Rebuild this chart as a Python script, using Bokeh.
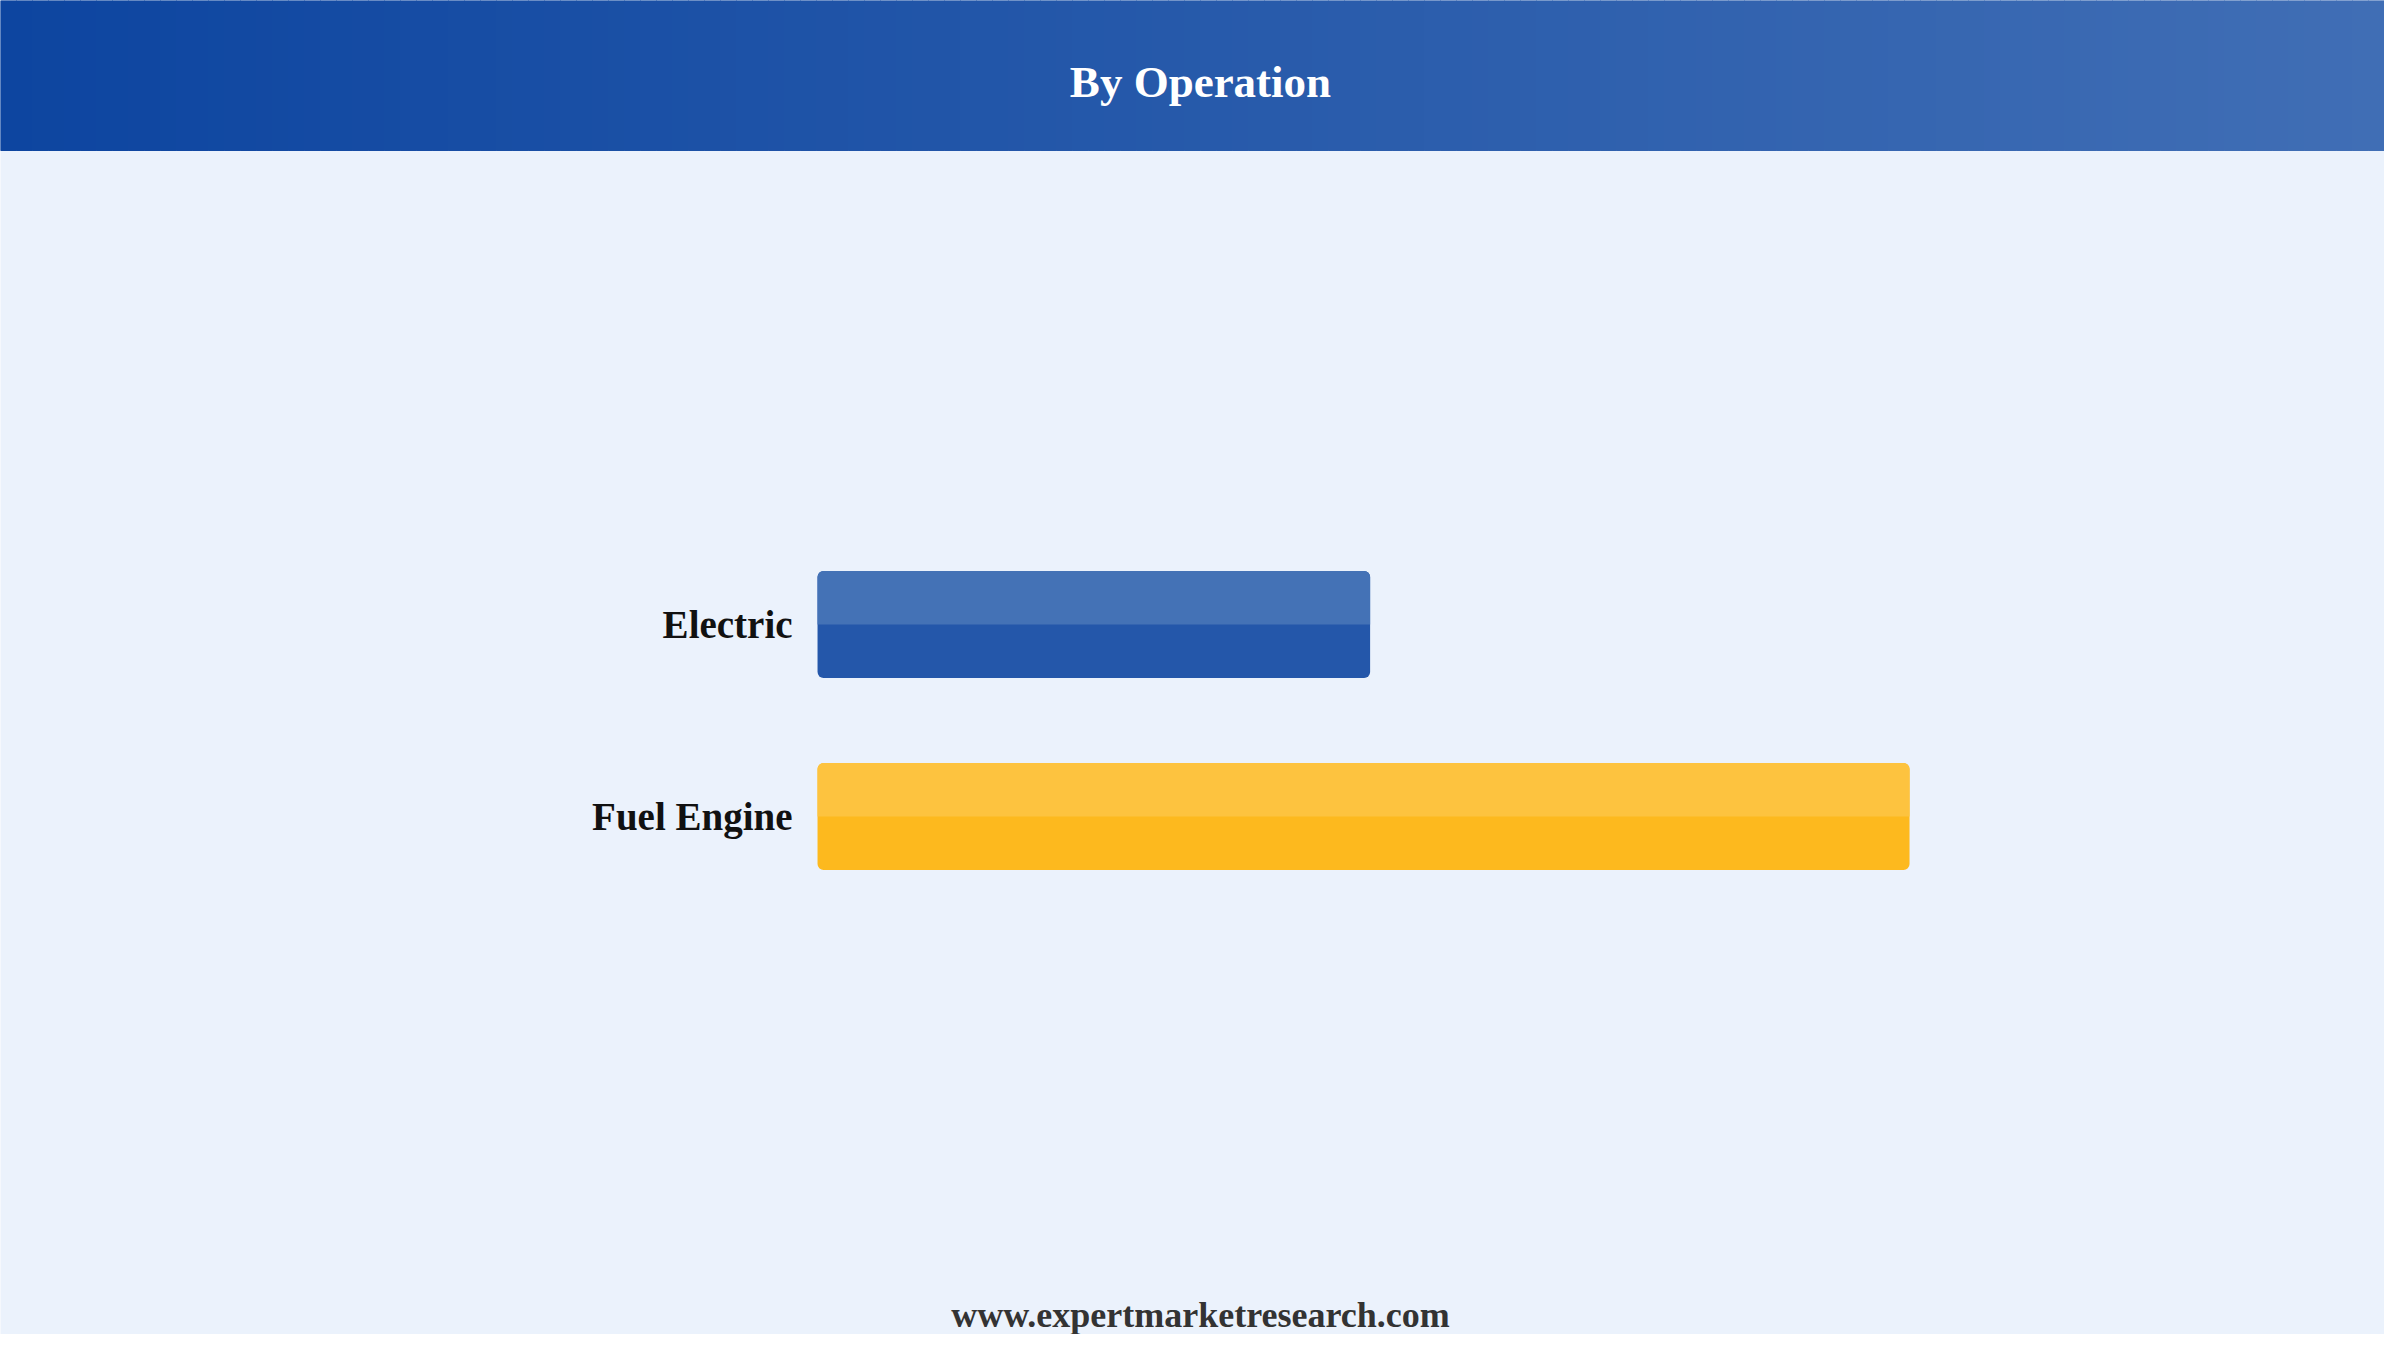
from bokeh.plotting import figure
from bokeh.models import ColumnDataSource, Range1d, Label
from bokeh.transform import dodge
from bokeh.core.properties import value
from bokeh.embed import file_html
from bokeh.resources import INLINE

# ---- data ----
categories = ["Fuel Engine", "Electric"]
values = [66.4, 33.6]
colors_main = ["#FDB91E", "#2457AA"]
colors_light = ["#FDC33F", "#4472B6"]
title_text = "By Operation"
footer_text = "www.expertmarketresearch.com"

BG = "#EBF2FC"
W, H = 2384, 1334
SERIF = "Liberation Serif"

p = figure(width=W, height=H, output_backend="svg", toolbar_location=None,
           x_range=Range1d(-49.68, 95.28), y_range=Range1d(-2.698, 4.25),
           min_border=0, x_axis_location=None, y_axis_location=None)
p.extra_x_ranges = {"fx": Range1d(0, 1)}
p.extra_y_ranges = {"fy": Range1d(0, 1)}
p.background_fill_color = BG
p.border_fill_color = BG
p.outline_line_color = None
p.grid.visible = False

# ---- header with gradient ----
n = 149
c0 = (13, 69, 160)
c1 = (64, 110, 181)
lefts, rights, cols = [], [], []
for i in range(n):
    t = i / (n - 1)
    cols.append("#%02x%02x%02x" % tuple(round(a + (b - a) * t) for a, b in zip(c0, c1)))
    lefts.append(i / n)
    rights.append((i + 1) / n)
p.quad(left=lefts, right=rights, bottom=1 - 150 / H, top=1, fill_color=cols,
       line_color=cols, line_width=1, x_range_name="fx", y_range_name="fy")
p.add_layout(Label(x=1200 / W, y=1 - 81 / H, text=title_text, text_align="center",
                   text_baseline="middle", text_font=SERIF, text_font_style="bold",
                   text_font_size="45px", text_color="white",
                   x_range_name="fx", y_range_name="fy"))

# ---- bars ----
src = ColumnDataSource(dict(y=list(range(len(categories))), cat=categories, val=values,
                            c=colors_main, cl=colors_light))
bh = 0.557
p.hbar(y="y", right="val", left=0, height=bh, fill_color="c", line_color=None,
       border_radius=6, source=src)
p.hbar(y=dodge("y", bh / 4), right="val", left=0, height=bh / 2,
       fill_color="cl", line_color=None, border_radius=(6, 6, 0, 0), source=src)
p.text(x=0, y="y", text="cat", x_offset=-25, text_align="right", text_baseline="middle",
       text_font=value(SERIF), text_font_style="bold", text_font_size=value("39px"),
       text_color="#111111", source=src)

# ---- footer ----
p.add_layout(Label(x=1200 / W, y=1 - 1314 / H, text=footer_text, text_align="center",
                   text_baseline="middle", text_font=SERIF, text_font_style="bold",
                   text_font_size="36px", text_color="#333333",
                   x_range_name="fx", y_range_name="fy"))

open("out.html", "w").write(file_html(p, INLINE))
